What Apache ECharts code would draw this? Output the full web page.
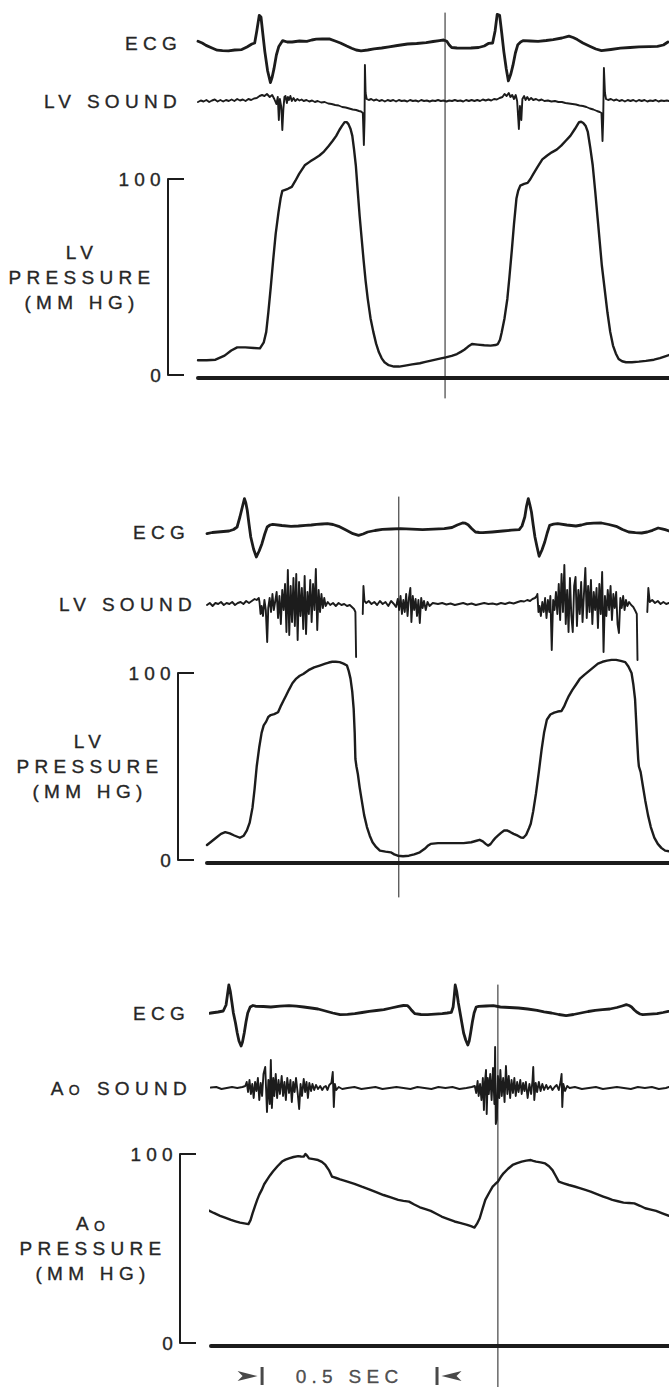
<!DOCTYPE html>
<html>
<head>
<meta charset="utf-8">
<title>ECG, sound and pressure tracings</title>
<script src="https://cdn.jsdelivr.net/npm/echarts@6/dist/echarts.min.js"></script>
<style>
  html, body { margin: 0; padding: 0; background: #ffffff; }
  #chart { width: 669px; height: 1387px; }
  #chart text { letter-spacing: 5.3px; }
</style>
</head>
<body>
<div id="chart"></div>
<script>
// ---------------- DATA (time in ms from the start of each panel's trace) ----------------
// Panel 1
const P1_ECG = [[0,1.7],[12,0],[23,-2.4],[40,-5],[55,-7.2],[70,-7.6],[87,-7.9],[105,-7],[125,-6.6],[140,-4],[154,-1],[162,0],[168,12],[175,27.6],[180,26],[185,10],[191,-8.6],[199,-28],[207,-39.7],[212,-34],[217,-25.9],[224,-12],[231,-3.4],[242,2.4],[255,1],[269,1],[290,2],[311,1.7],[325,3],[338,3.8],[355,4],[375,4.1],[392,2],[407,0],[425,-3],[439,-5.2],[452,-7],[466,-7.9],[485,-7],[503,-5.9],[525,-5],[546,-3.8],[570,-2.5],[599,-1],[625,-0.5],[652,0.3],[672,1.5],[690,2.4],[702,3],[711,1.7],[718,-2],[725,-4.5],[740,-5],[759,-5.2],[780,-5],[802,-4.5],[818,-3],[831,-0.3],[842,0],[849,12],[855,28.6],[862,27.6],[868,10],[874,-8.6],[881,-26],[887,-37.9],[894,-31],[900,-22.4],[907,-10],[914,-1.7],[922,1],[930,2.4],[950,2],[972,1.7],[995,2.5],[1015,3.4],[1040,5],[1060,6.9],[1072,5.5],[1084,3.4],[1100,0],[1121,-3.4],[1137,-6],[1153,-7.6],[1180,-6.5],[1207,-5.2],[1235,-4.5],[1260,-3.8],[1290,-3.6],[1313,-3.4],[1330,-2],[1343,1]];
const P1_SOUND = [[0,-1],[8,0.5],[16,-0.5],[24,1],[32,-1],[40,0.5],[48,1.5],[56,-0.5],[64,1],[72,-0.5],[80,1],[88,0],[96,1.5],[104,0],[112,2],[120,0.5],[128,1.5],[136,0],[144,2],[152,1],[160,2.5],[168,3],[176,5],[183,6],[190,5],[197,7],[205,4],[212,6],[218,2],[224,-3],[228,4],[231,-19],[234,2],[238,-6],[241,-29],[244,-8],[247,4],[250,5],[254,-2],[257,4],[260,1],[264,5],[268,0],[273,3],[278,0],[284,2],[290,0.5],[296,1.5],[302,0],[310,1],[318,-0.5],[326,0.5],[334,-1],[342,0],[352,-1.5],[362,-1],[372,-2.5],[382,-3],[392,-4],[402,-4.5],[412,-6],[422,-6.5],[432,-7.5],[442,-8.5],[452,-9],[460,-10],[466,-10.5],[471,-12],[474,-44],[476,-18],[477,36],[479,8],[482,2],[488,1],[495,2],[502,0.5],[510,1.5],[518,0],[526,1],[534,-0.5],[542,1],[550,0],[558,1],[566,-0.5],[574,1],[582,0],[590,0.5],[598,-0.5],[606,1],[614,0],[622,0.5],[630,-0.5],[638,1],[646,0],[654,0.5],[662,-0.5],[670,0.5],[678,0],[686,1],[694,0],[702,0.5],[710,-0.5],[718,0.5],[726,0],[734,1],[742,0],[750,0.5],[758,-0.5],[766,1],[774,0],[782,1],[790,0],[798,1],[806,0],[814,1.5],[822,0.5],[830,1.5],[838,0.5],[846,2],[854,1.5],[862,3],[870,4],[876,7],[882,5],[888,8],[893,4],[898,6],[903,2],[908,6],[912,0],[917,-28],[920,-5],[924,-19],[927,2],[932,5],[936,1],[941,4],[946,1],[952,3],[958,1],[966,2],[974,0.5],[982,1.5],[990,0],[1000,0.5],[1010,-0.5],[1020,0],[1030,-1],[1040,-1],[1050,-2],[1060,-2.5],[1070,-3],[1080,-3.5],[1090,-4.5],[1100,-5],[1110,-6],[1120,-7.5],[1130,-8.5],[1140,-10],[1148,-11],[1153,-12],[1156,-40],[1158,-18],[1160,33],[1163,8],[1166,2],[1172,1],[1180,2],[1188,0.5],[1196,1.5],[1204,0],[1212,1],[1220,-0.5],[1228,1],[1236,0],[1244,1],[1252,-0.5],[1260,1],[1268,0],[1276,1],[1284,-0.5],[1292,0.5],[1300,0],[1308,1],[1316,-0.5],[1324,0.5],[1332,0],[1340,0.5],[1346,0]];
const P1_PRESSURE = [[0,7.5],[25,7.5],[50,7.8],[76,9.9],[95,12.5],[112,14.1],[135,14.1],[160,13.8],[177,13.6],[188,16.7],[195,22],[201,32],[208,45],[215,59],[222,72],[230,83],[236,90],[241,94],[249,94.5],[257,95],[268,96],[278,99],[289,102.6],[305,107],[321,109],[334,110.5],[347,112],[360,114],[374,117],[385,119.5],[395,122],[404,125],[411,127],[419,129],[425,129],[430,128],[436,125.5],[441,122],[446,115],[451,107],[456,95],[462,81],[468,69],[473,59],[479,48],[485,39],[493,29],[501,22],[509,16],[517,11.6],[525,8.5],[533,6.5],[545,5],[560,4.3],[575,4.3],[592,4.8],[612,5.4],[634,6],[650,6.7],[666,7.3],[688,8.2],[708,9],[725,9.8],[740,10.7],[751,11.8],[761,12.9],[772,14.5],[783,15.8],[799,15.5],[818,15.2],[836,15],[850,15.3],[857,15.8],[863,18],[868,21.8],[876,29],[884,38.8],[890,50],[897,64],[903,77],[910,90],[915,94],[921,96.6],[932,97.5],[942,98],[950,100],[958,102.5],[970,106],[984,110],[998,112],[1011,113.6],[1025,115],[1038,117],[1051,119.5],[1064,122],[1077,125.5],[1089,129],[1095,129.2],[1101,128.6],[1108,127],[1114,124],[1121,116],[1128,107],[1135,94],[1142,80],[1148,68],[1154,56],[1162,44],[1170,32],[1178,22],[1186,15],[1194,11],[1202,8.2],[1212,7],[1223,6.5],[1240,6.5],[1260,6.8],[1280,7.2],[1303,7.8],[1320,8.6],[1335,9.5],[1346,10.2]];

// Panel 2
const P2_ECG = [[0,-1.7],[15,-0.5],[31,0],[47,0.5],[63,1],[76,2.5],[86,5],[94,15],[101,25],[107,33.3],[111,29],[115,21.7],[120,8],[125,-5],[133,-17],[141,-25],[149,-19],[157,-11.7],[165,-2],[172,5],[180,7],[188,7.7],[214,6.5],[240,5.7],[261,6],[282,6.7],[298,7],[313,7.7],[329,8],[344,8.3],[360,7.5],[376,5.7],[397,2],[417,-1.7],[433,-3.3],[446,-2],[459,0],[480,1.5],[501,2.7],[527,3],[553,3.3],[585,2.8],[616,2.3],[647,2.8],[678,3.3],[700,4.5],[715,7],[730,9],[738,8.8],[746,7.3],[756,3.5],[767,0],[778,-0.5],[788,-0.7],[815,0],[845,1],[870,1.8],[892,2.3],[900,6],[908,15],[913,26],[918,33.3],[922,28],[927,20],[932,7],[937,-5],[943,-15],[949,-24.3],[957,-18],[965,-10],[972,-1],[979,6.7],[990,7.8],[1002,8.3],[1028,7],[1054,6],[1070,7],[1085,8.3],[1105,8.8],[1127,9],[1148,7.5],[1169,5.7],[1187,2.5],[1205,0],[1224,-0.7],[1242,-1],[1258,0],[1273,1.7],[1282,3],[1289,4],[1300,3.2],[1309,2.3],[1320,1]];
const P2_SOUND = [[0,-1],[8,1],[16,-2],[24,1],[32,0],[40,2],[48,-1],[56,1],[64,0],[72,2],[80,-1],[88,1],[96,2],[104,0],[112,3],[120,1],[128,3],[136,5],[142,4],[148,6],[150,2],[153,-10],[156,-2],[160,-12],[164,4],[168,-6],[172,-38],[175,-4],[179,6],[183,-8],[187,10],[191,-6],[195,3],[199,12],[203,-14],[207,8],[211,-20],[215,14],[219,-6],[223,20],[227,-28],[231,34],[235,-31],[239,18],[243,-18],[247,26],[251,-22],[255,30],[259,-36],[263,22],[267,-12],[271,16],[275,-25],[279,28],[283,-30],[287,12],[291,-10],[295,24],[299,-18],[303,20],[307,-6],[311,35],[315,-26],[319,14],[323,-8],[327,10],[331,-4],[335,6],[339,-2],[345,2],[352,-1],[360,1],[368,-2],[376,1],[384,-1],[392,0],[400,-2],[408,-1],[414,-3],[420,-5],[424,-8],[426,-53],[428,'-'],[445,-10],[447,18],[450,3],[455,1],[462,3],[470,0],[478,2],[486,-1],[494,3],[502,0],[510,2],[518,-2],[526,3],[534,0],[540,-3],[545,5],[549,-6],[553,8],[557,-10],[561,4],[565,-8],[569,10],[573,-12],[577,6],[581,16],[584,-18],[588,8],[592,-6],[596,5],[600,-12],[604,4],[608,-19],[612,6],[616,-4],[620,3],[625,-6],[630,2],[636,-2],[645,1],[660,0],[672,1],[684,-0.5],[696,0.5],[708,-1],[720,0],[732,1],[744,-0.5],[756,0.5],[768,-1],[780,0],[792,1],[804,0],[816,0.5],[828,-0.5],[840,1],[852,0],[864,1.5],[876,0.5],[888,2],[897,3],[906,2.5],[915,4],[923,3],[930,5],[937,6],[942,8],[944,10],[947,-8],[950,-2],[954,-12],[958,2],[962,-8],[966,6],[970,-14],[974,4],[978,-8],[981,8],[985,-46],[989,4],[993,-6],[997,12],[1001,-10],[1005,20],[1009,-16],[1013,30],[1017,-8],[1021,39],[1025,-20],[1029,14],[1033,-28],[1037,26],[1041,-12],[1045,-28],[1049,18],[1053,27],[1057,-22],[1061,14],[1065,-10],[1069,22],[1073,-18],[1077,10],[1081,36],[1085,-14],[1089,18],[1093,-8],[1097,24],[1101,-20],[1105,12],[1109,-6],[1113,16],[1117,-24],[1121,20],[1125,-10],[1129,32],[1133,-48],[1137,8],[1141,-12],[1145,14],[1149,-6],[1153,18],[1157,-16],[1161,10],[1165,-4],[1169,12],[1173,-20],[1177,-29],[1181,6],[1185,-4],[1189,8],[1193,-6],[1197,4],[1201,-2],[1206,2],[1212,-1],[1218,-3],[1224,-7],[1228,-10],[1230,-56],[1232,'-'],[1258,-8],[1261,16],[1265,2],[1272,4],[1280,1],[1288,3],[1296,0],[1304,2],[1312,0],[1320,1]];
const P2_PRESSURE = [[0,8],[10,9.5],[26,11.9],[40,14],[52,14.9],[65,14.2],[78,13.1],[94,11.9],[105,13],[114,15.8],[122,20],[130,28],[136,38],[142,50],[149,60],[156,68],[162,72],[169,74],[175,76.5],[182,77.5],[192,78],[203,79],[210,82],[218,85],[226,88],[234,91],[244,94.5],[255,97],[265,98.5],[275,99.5],[290,101.5],[306,103],[322,104],[338,105],[348,105.6],[358,106],[368,106],[379,105.8],[390,105],[400,104],[405,101],[410,97],[415,90],[419,81],[422,68],[424,54],[427,50],[431,46],[436,39],[442,32],[449,24],[457,17.6],[465,13],[473,9.5],[483,7],[494,5],[510,4.5],[525,4.1],[535,3],[545,2.3],[560,2],[577,2.3],[592,3],[608,4.1],[622,6],[632,7.8],[639,8.6],[660,9],[681,9],[707,9],[733,9],[755,9.5],[770,10.3],[779,10.8],[788,10],[797,8.5],[803,7.7],[810,8.5],[818,10.5],[825,12],[831,13],[840,14.5],[849,15.8],[857,15.8],[866,15],[876,14],[888,13],[897,12],[904,11.9],[912,13.5],[920,17],[925,19.4],[932,26],[940,35.6],[948,47],[956,59],[963,68],[971,75],[981,77.8],[992,78.8],[1002,79.4],[1013,79.7],[1020,82],[1027,85],[1034,87.8],[1044,91],[1055,94],[1065,96.8],[1078,99],[1091,101],[1104,103],[1117,105],[1130,106],[1143,106.6],[1156,107],[1169,107],[1182,106.5],[1195,105.8],[1204,103.5],[1213,100],[1218,94],[1223,86],[1226,75],[1229,64],[1232,54],[1234,50],[1239,47],[1245,40],[1252,32],[1260,24],[1268,17.6],[1278,12],[1288,8.6],[1298,6.5],[1309,5],[1320,4.7]];

// Panel 3
const P3_ECG = [[-17,-1],[0,0],[20,1],[35,2],[43,8],[47,18],[51,28],[55,22],[60,10],[64,0],[70,-10],[75,-20],[80,-28],[86,-33],[90,-29],[95,-20],[100,-9],[105,0],[112,6],[120,7.5],[129,6.7],[150,6.5],[171,6],[197,6.8],[223,7.3],[244,6.8],[265,6],[286,5],[306,4],[327,2],[348,0],[369,-1.7],[390,-1.3],[411,-0.7],[432,0.5],[452,1.7],[473,2.5],[494,3.3],[515,5],[536,6.7],[550,7.5],[562,7.3],[567,5.5],[572,3.3],[578,1],[583,-0.7],[600,-1.5],[619,-1.7],[640,-1.2],[661,-0.7],[675,0],[687,0.7],[692,6],[695,16],[698,28],[702,22],[707,10],[712,0],[717,-10],[722,-20],[728,-27],[734,-32],[738,-28],[742,-20],[747,-9],[752,0],[758,6],[765,6.7],[786,7],[807,7.3],[827,6],[853,5.5],[879,5],[905,4],[932,2.7],[952,1.2],[973,0],[994,-1.5],[1015,-2.7],[1036,-1.5],[1057,0],[1078,1.5],[1098,2.7],[1119,3.3],[1140,4],[1160,5.5],[1175,7],[1187,8.3],[1195,7.5],[1202,6],[1210,3],[1218,0.7],[1226,-1],[1234,-1.7],[1255,-1.2],[1275,-0.7],[1292,0.5],[1307,1.7]];
const P3_SOUND = [[-17,0],[0,0.5],[15,1],[30,-1],[45,0],[60,1],[75,0],[90,1],[98,2],[102,6],[106,-4],[110,8],[114,-6],[118,4],[122,-10],[126,6],[130,-3],[134,10],[138,-12],[142,5],[146,-8],[150,14],[155,21],[158,-6],[160,-24],[164,8],[168,-16],[171,28],[174,-20],[178,10],[181,-8],[185,14],[189,-10],[193,8],[197,-6],[202,12],[206,-8],[210,6],[214,-12],[218,10],[223,-5],[227,8],[231,-14],[235,6],[239,-4],[243,10],[248,-6],[252,-21],[256,4],[260,-8],[265,9],[269,-4],[273,6],[277,-10],[281,5],[286,-3],[290,4],[295,-2],[300,3],[306,-1],[312,2],[318,-2],[323,1],[328,2],[333,-2],[338,3],[344,5],[348,16],[351,-19],[354,4],[358,-2],[365,1],[375,-1],[390,0],[410,1],[430,-1],[450,0],[470,1],[490,-1],[510,0],[530,1],[550,0],[570,-1],[590,1],[610,0],[630,-1],[650,1],[670,0],[690,1],[710,-1],[730,0],[745,1],[754,2],[758,-5],[762,7],[765,-8],[769,4],[773,-12],[777,10],[780,-22],[783,6],[786,18],[788,-26],[791,10],[794,-6],[798,14],[802,-12],[806,20],[810,-16],[812,41],[814,-36],[817,-31],[820,12],[824,-10],[827,18],[831,-8],[835,10],[839,-14],[843,22],[847,-6],[851,12],[855,-10],[859,8],[863,-5],[867,10],[871,-8],[875,6],[879,-4],[884,8],[888,-6],[892,5],[896,-3],[900,6],[905,-10],[910,4],[915,-6],[919,8],[921,21],[924,-12],[928,5],[932,-4],[937,6],[942,-3],[947,4],[952,-2],[958,3],[963,-1],[970,2],[976,-2],[982,1],[988,3],[994,-2],[999,6],[1002,14],[1004,-19],[1007,4],[1012,-3],[1018,2],[1025,0],[1040,1],[1060,-1],[1080,0],[1100,1],[1120,-1],[1140,0],[1160,1],[1180,0],[1200,-1],[1220,1],[1240,0],[1260,1],[1280,-1],[1300,0],[1309,1]];
const P3_PRESSURE = [[-10,70.4],[8,68.8],[26,67.3],[42,66.2],[57,65.1],[70,64.4],[83,63.7],[95,63.3],[107,62.9],[113,65],[119,68.7],[126,72.5],[132,75.7],[138,78.5],[145,81],[152,84],[161,86.6],[169,88.8],[177,90.7],[190,93.5],[203,96],[213,97],[223,97.7],[236,98.4],[249,98.9],[257,98.7],[265,98.6],[270,100],[275,99],[280,97.7],[293,97.3],[306,96.8],[317,95.8],[327,94.2],[337,91.5],[346,88],[358,87.3],[369,86.6],[390,85.4],[410,84.2],[431,82.7],[452,81.3],[472,79.8],[493,78.3],[514,77],[535,75.7],[550,75.2],[566,74.8],[581,73.3],[597,71.8],[613,70.8],[628,69.9],[644,68.4],[659,66.9],[678,65.6],[696,64.3],[714,63.4],[732,62.5],[743,61.8],[753,61.1],[760,63],[768,66],[776,71],[784,75.7],[795,79.5],[805,82.7],[812,84],[820,85.4],[828,87.8],[836,89.8],[849,92.2],[862,94.2],[875,95.2],[888,96],[901,96.5],[914,96.8],[921,96.4],[929,96],[942,95.6],[955,95],[966,93.5],[976,91.5],[985,88.5],[994,85.4],[1008,84.5],[1023,83.6],[1039,82.8],[1054,81.9],[1070,81],[1085,80.1],[1103,78.8],[1121,77.5],[1134,76.6],[1147,75.7],[1163,75],[1179,74.3],[1195,74.1],[1210,73.9],[1226,72.6],[1241,71.3],[1257,70.6],[1272,69.9],[1290,68.6],[1309,67.3]];

// Time markers (vertical lines), in ms from each panel's start
const MARKER_MS = [706, 548, 820];
// Labels
const ECG_LABELS = ['ECG', 'ECG', 'ECG'];
const SOUND_LABELS = ['LV SOUND', 'LV SOUND', '{a|A}{o|O}{s|SOUND}'];
const PRESSURE_LABELS = ['LV\nPRESSURE\n(MM HG)', 'LV\nPRESSURE\n(MM HG)', '{a|A}{o|O}\nPRESSURE\n(MM HG)'];
const PRESSURE_RANGE = [0, 100];
// Time scale bar (ms) and its label
const SCALE_BAR_MS = [146, 646];
const SCALE_BAR_LABEL = '0.5 SEC';

// ---------------- LAYOUT ----------------
const FONT = '"Liberation Sans", Arial, Helvetica, sans-serif';
const INK = '#1c1c1c';
const TXT = '#262626';
const FS = 19;
const LETTER_SPACING = 5.3;

const LAYOUT = [
  { left: 198, span: 1346, axisOffset: 30, ecg: { mid: 43, R: 40, gap: 16 }, sound: { mid: 101, R: 45, gap: 16 },
    pres: { top: 179, bottom: 375 }, marker: { top: 13, bottom: 398 }, nameGap: 86 },
  { left: 207, span: 1320, axisOffset: 29, ecg: { mid: 532, R: 40, gap: 17 }, sound: { mid: 604, R: 60, gap: 10 },
    pres: { top: 673, bottom: 860 }, marker: { top: 497, bottom: 897 }, nameGap: 88 },
  { left: 211, span: 1309, axisOffset: 31, ecg: { mid: 1013, R: 40, gap: 21 }, sound: { mid: 1088, R: 45, gap: 19 },
    pres: { top: 1154, bottom: 1343 }, marker: { top: 985, bottom: 1387 }, nameGap: 87 }
];
const PANELS = [
  { ecg: P1_ECG, sound: P1_SOUND, pressure: P1_PRESSURE },
  { ecg: P2_ECG, sound: P2_SOUND, pressure: P2_PRESSURE },
  { ecg: P3_ECG, sound: P3_SOUND, pressure: P3_PRESSURE }
];

if (echarts.setPlatformAPI) {
  const mctx = document.createElement('canvas').getContext('2d');
  echarts.setPlatformAPI({
    measureText: function (text, font) {
      mctx.font = font;
      try { mctx.letterSpacing = LETTER_SPACING + 'px'; } catch (e) {}
      return mctx.measureText(text);
    }
  });
}

const TEXT_BASE = { fontFamily: FONT, fontSize: FS, color: TXT, textBorderColor: TXT, textBorderWidth: 0.35 };
const RICH = {
  a: Object.assign({}, TEXT_BASE, { verticalAlign: 'middle', lineHeight: 24 }),
  o: Object.assign({}, TEXT_BASE, { fontSize: 14, verticalAlign: 'bottom', lineHeight: 24 }),
  s: Object.assign({}, TEXT_BASE, { verticalAlign: 'middle', lineHeight: 24, padding: [0, 0, 0, 12] })
};

const grids = [], xAxes = [], yAxes = [], series = [];
const hidden = { axisLine: { show: false }, axisTick: { show: false }, axisLabel: { show: false }, splitLine: { show: false } };

LAYOUT.forEach(function (L, i) {
  const D = PANELS[i];
  const b = grids.length;
  const g = function (top, height) {
    return { left: L.left, right: 0, top: top, height: height, containLabel: false, outerBoundsMode: 'none' };
  };
  grids.push(g(L.ecg.mid - L.ecg.R, 2 * L.ecg.R));
  grids.push(g(L.sound.mid - L.sound.R, 2 * L.sound.R));
  grids.push(g(L.pres.top, L.pres.bottom - L.pres.top));
  grids.push(g(L.marker.top, L.marker.bottom - L.marker.top));

  for (let k = 0; k < 4; k++) {
    if (k === 2) {
      xAxes.push({ type: 'value', gridIndex: b + k, min: 0, max: L.span, offset: 3,
        axisLine: { show: true, onZero: false, lineStyle: { color: INK, width: 4 } },
        axisTick: { show: false }, axisLabel: { show: false }, splitLine: { show: false } });
    } else {
      xAxes.push(Object.assign({ type: 'value', gridIndex: b + k, min: 0, max: L.span, show: false }, hidden));
    }
  }
  const nameStyle = Object.assign({}, TEXT_BASE, { align: 'right', verticalAlign: 'middle', rich: RICH });
  yAxes.push(Object.assign({ type: 'value', gridIndex: b, min: -L.ecg.R, max: L.ecg.R, nameMoveOverlap: false,
    name: ECG_LABELS[i], nameLocation: 'middle', nameRotate: 0, nameGap: L.ecg.gap, nameTextStyle: nameStyle }, hidden));
  yAxes.push(Object.assign({ type: 'value', gridIndex: b + 1, min: -L.sound.R, max: L.sound.R, nameMoveOverlap: false,
    name: SOUND_LABELS[i], nameLocation: 'middle', nameRotate: 0, nameGap: L.sound.gap, nameTextStyle: nameStyle }, hidden));
  yAxes.push({ type: 'value', gridIndex: b + 2, min: PRESSURE_RANGE[0], max: PRESSURE_RANGE[1], interval: 100,
    offset: L.axisOffset, nameMoveOverlap: false,
    axisLine: { show: true, onZero: false, lineStyle: { color: INK, width: 2 } },
    axisTick: { show: true, inside: true, length: 16, lineStyle: { color: INK, width: 2 } },
    axisLabel: Object.assign({ show: true, margin: 2 }, TEXT_BASE),
    splitLine: { show: false },
    name: PRESSURE_LABELS[i], nameLocation: 'middle', nameRotate: 0, nameGap: L.nameGap,
    nameTextStyle: Object.assign({}, TEXT_BASE, { align: 'center', verticalAlign: 'middle', lineHeight: 25, rich: RICH }) });
  yAxes.push(Object.assign({ type: 'value', gridIndex: b + 3, min: 0, max: 1, show: false }, hidden));

  const line = function (name, idx, data, width) {
    return { type: 'line', name: name, xAxisIndex: idx, yAxisIndex: idx, data: data, showSymbol: false, symbol: 'none',
      clip: false, silent: true, connectNulls: false,
      lineStyle: { color: INK, width: width, join: 'round', cap: 'round' } };
  };
  series.push(line('ECG ' + (i + 1), b, D.ecg, 2.8));
  series.push(line('Sound ' + (i + 1), b + 1, D.sound, 1.9));
  series.push(line('Pressure ' + (i + 1), b + 2, D.pressure, 2.4));
  series.push(line('Marker ' + (i + 1), b + 3, [[MARKER_MS[i], 0], [MARKER_MS[i], 1]], 1));

  if (i === 2) {
    const yBar = -17.5;
    series.push({ type: 'scatter', name: 'Time scale', xAxisIndex: b + 2, yAxisIndex: b + 2, clip: false, silent: true,
      itemStyle: { color: INK },
      data: [
        { value: [SCALE_BAR_MS[0], yBar], symbol: 'path://M0,4L20,9L0,14L5,9ZM23,0L26,0L26,18L23,18Z', symbolSize: [26, 18], symbolOffset: [-11.5, 0] },
        { value: [SCALE_BAR_MS[1], yBar], symbol: 'path://M0,0L3,0L3,18L0,18ZM26,4L6,9L26,14L21,9Z', symbolSize: [26, 18], symbolOffset: [11.5, 0] },
        { value: [(SCALE_BAR_MS[0] + SCALE_BAR_MS[1]) / 2, yBar], symbolSize: 0,
          label: Object.assign({ show: true, position: 'inside', formatter: SCALE_BAR_LABEL }, TEXT_BASE) }
      ] });
  }
});

const chart = echarts.init(document.getElementById('chart'), null, { renderer: 'svg', width: 669, height: 1387 });
chart.setOption({
  animation: false,
  backgroundColor: '#ffffff',
  grid: grids,
  xAxis: xAxes,
  yAxis: yAxes,
  series: series
});
</script>
</body>
</html>
